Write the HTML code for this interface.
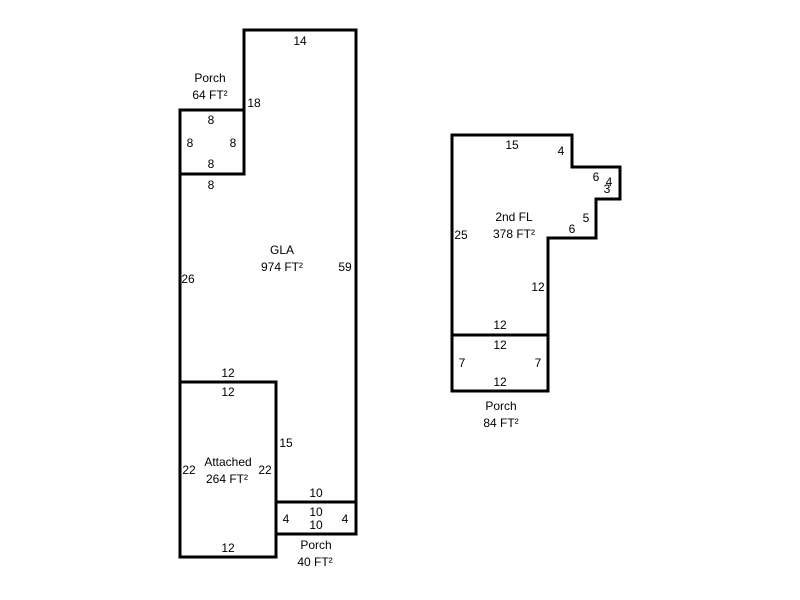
<!DOCTYPE html>
<html><head><meta charset="utf-8"><style>
html,body{margin:0;padding:0;background:#fff;}
svg{display:block;}
text{font-family:"Liberation Sans",sans-serif;font-size:12px;fill:#000;text-anchor:middle;}
</style></head><body>
<svg width="800" height="600" viewBox="0 0 800 600" xmlns="http://www.w3.org/2000/svg">
<g fill="none" stroke="#000" stroke-width="3" stroke-linecap="square">
<polyline points="244,174 244,30 356,30 356,534"/>
<rect x="180" y="110" width="64" height="64"/>
<line x1="180" y1="174" x2="180" y2="557"/>
<rect x="180" y="382" width="96" height="175"/>
<rect x="276" y="502" width="80" height="32"/>
<polygon points="452,135 572,135 572,167 620,167 620,199 596,199 596,238 548,238 548,335 452,335"/>
<rect x="452" y="335" width="96" height="56"/>
</g>
<text x="300" y="45">14</text>
<text x="210" y="82">Porch</text>
<text x="210" y="99">64 FT²</text>
<text x="254" y="107">18</text>
<text x="211" y="124">8</text>
<text x="190" y="147">8</text>
<text x="233" y="147">8</text>
<text x="211" y="168">8</text>
<text x="211" y="189">8</text>
<text x="282" y="254">GLA</text>
<text x="282" y="271">974 FT²</text>
<text x="345" y="271">59</text>
<text x="188" y="283">26</text>
<text x="228" y="377">12</text>
<text x="228" y="396">12</text>
<text x="286" y="447">15</text>
<text x="228" y="466">Attached</text>
<text x="227" y="483">264 FT²</text>
<text x="189" y="474">22</text>
<text x="265" y="474">22</text>
<text x="316" y="497">10</text>
<text x="316" y="516">10</text>
<text x="316" y="529">10</text>
<text x="286" y="523">4</text>
<text x="345" y="523">4</text>
<text x="228" y="552">12</text>
<text x="316" y="549">Porch</text>
<text x="315" y="566">40 FT²</text>
<text x="512" y="149">15</text>
<text x="561" y="155">4</text>
<text x="596" y="181">6</text>
<text x="609" y="186">4</text>
<text x="607" y="193">3</text>
<text x="586" y="222">5</text>
<text x="572" y="233">6</text>
<text x="514" y="221">2nd FL</text>
<text x="514" y="238">378 FT²</text>
<text x="461" y="239">25</text>
<text x="538" y="291">12</text>
<text x="500" y="329">12</text>
<text x="500" y="349">12</text>
<text x="462" y="367">7</text>
<text x="538" y="367">7</text>
<text x="500" y="386">12</text>
<text x="501" y="410">Porch</text>
<text x="501" y="427">84 FT²</text>
</svg>
</body></html>
